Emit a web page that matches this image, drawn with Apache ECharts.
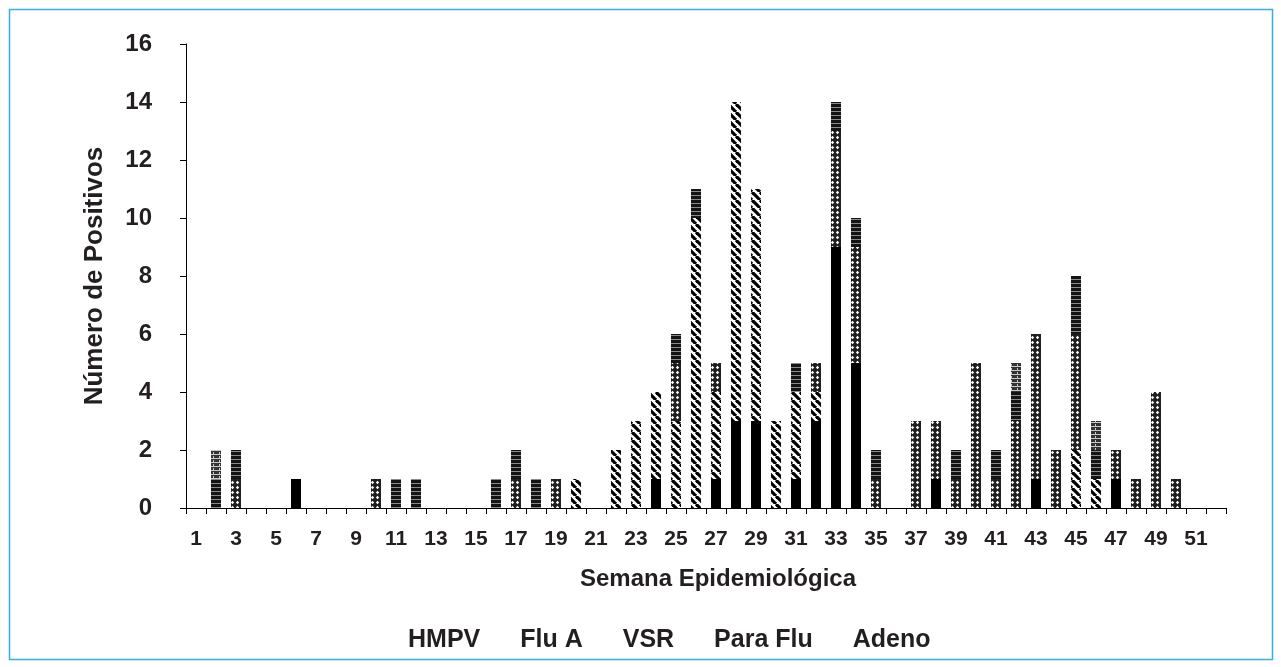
<!DOCTYPE html>
<html>
<head>
<meta charset="utf-8">
<script src="https://cdn.jsdelivr.net/npm/echarts@6/dist/echarts.min.js"></script>
<style>
html,body{margin:0;padding:0;background:#fff;}
#c{width:1281px;height:667px;}
</style>
</head>
<body>
<div id="c"></div>
<script>
// Weeks 1..52
const weeks = Array.from({length: 52}, (_, i) => String(i + 1));
const seriesNames = ['HMPV', 'Flu A', 'VSR', 'Para Flu', 'Adeno'];
//                 1 2 3 4 5 6 7 8 9 10 11 12 13 14 15 16 17 18 19 20 21 22 23 24 25 26 27 28 29 30 31 32 33 34 35 36 37 38 39 40 41 42 43 44 45 46 47 48 49 50 51 52
const hmpv     = [0,0,0,0,0,1,0,0,0, 0, 0, 0, 0, 0, 0, 0, 0, 0, 0, 0, 0, 0, 0, 1, 0, 0, 1, 3, 3, 0, 1, 3, 9, 5, 0, 0, 0, 1, 0, 0, 0, 0, 1, 0, 0, 0, 1, 0, 0, 0, 0, 0];
const fluA     = [0,0,0,0,0,0,0,0,0, 0, 0, 0, 0, 0, 0, 0, 0, 0, 0, 1, 0, 2, 3, 3, 3,10, 3,11, 8, 3, 3, 1, 0, 0, 0, 0, 0, 0, 0, 0, 0, 0, 0, 0, 2, 1, 0, 0, 0, 0, 0, 0];
const vsr      = [0,0,1,0,0,0,0,0,0, 1, 0, 0, 0, 0, 0, 0, 1, 0, 1, 0, 0, 0, 0, 0, 2, 0, 1, 0, 0, 0, 0, 1, 4, 4, 1, 0, 3, 2, 1, 5, 1, 3, 5, 2, 4, 0, 1, 1, 4, 1, 0, 0];
const paraFlu  = [0,1,1,0,0,0,0,0,0, 0, 1, 1, 0, 0, 0, 1, 1, 1, 0, 0, 0, 0, 0, 0, 1, 1, 0, 0, 0, 0, 1, 0, 1, 1, 1, 0, 0, 0, 1, 0, 1, 1, 0, 0, 2, 1, 0, 0, 0, 0, 0, 0];
const adeno    = [0,1,0,0,0,0,0,0,0, 0, 0, 0, 0, 0, 0, 0, 0, 0, 0, 0, 0, 0, 0, 0, 0, 0, 0, 0, 0, 0, 0, 0, 0, 0, 0, 0, 0, 0, 0, 0, 0, 1, 0, 0, 0, 1, 0, 0, 0, 0, 0, 0];
const yTicks = {min: 0, max: 16, interval: 2};

function pattern(w, h, draw) {
  const c = document.createElement('canvas');
  c.width = w; c.height = h;
  const g = c.getContext('2d');
  draw(g, w, h);
  return {image: c, repeat: 'repeat'};
}
const fills = [
  '#000000',
  pattern(8, 8, (g, w, h) => {
    g.fillStyle = '#fff'; g.fillRect(0, 0, w, h);
    g.strokeStyle = '#000'; g.lineWidth = 3.2;
    for (let k = -1; k <= 1; k++) {
      g.beginPath(); g.moveTo(k * w, 0); g.lineTo(k * w + w, h); g.stroke();
    }
  }),
  pattern(5, 5, (g, w, h) => {
    g.fillStyle = '#1e1e1e'; g.fillRect(0, 0, w, h);
    g.fillStyle = '#ffffff';
    g.beginPath();
    g.moveTo(2.5, 0.8); g.lineTo(4.2, 2.5); g.lineTo(2.5, 4.2); g.lineTo(0.8, 2.5); g.closePath();
    g.fill();
  }),
  pattern(4, 4, (g, w, h) => {
    g.fillStyle = '#141414'; g.fillRect(0, 0, w, h);
    g.fillStyle = '#8a8a8a';
    g.fillRect(0, 3, w, 1);
  }),
  pattern(6, 4, (g, w, h) => {
    g.fillStyle = '#333'; g.fillRect(0, 0, w, h);
    g.fillStyle = '#c8c8c8';
    g.fillRect(0, 2, w, 1);
    g.fillRect(3, 0, 1, 2);
  })
];
const dataSets = [hmpv, fluA, vsr, paraFlu, adeno];

const font = '"Liberation Sans", Arial, sans-serif';
const textColor = '#231f20';

const chart = echarts.init(document.getElementById('c'), null, {renderer: 'canvas'});
chart.setOption({
  animation: false,
  backgroundColor: '#fff',
  graphic: [{
    type: 'rect',
    shape: {x: 9.5, y: 9.5, width: 1263, height: 650},
    style: {fill: 'none', stroke: '#3aaee0', lineWidth: 1.5},
    silent: true
  }],
  grid: {left: 186, right: 55, top: 44, bottom: 159, containLabel: false},
  legend: {
    data: seriesNames,
    icon: 'none',
    itemWidth: 0,
    itemGap: 35,
    selectedMode: false,
    top: 623,
    left: 398,
    textStyle: {fontFamily: font, fontWeight: 'bold', fontSize: 25, color: textColor}
  },
  xAxis: {
    type: 'category',
    data: weeks,
    name: 'Semana Epidemiológica',
    nameLocation: 'middle',
    nameGap: 59,
    nameTextStyle: {fontFamily: font, fontWeight: 'bold', fontSize: 24, color: textColor, padding: [0, 0, 0, 24]},
    axisLine: {lineStyle: {color: '#000', width: 1}},
    axisTick: {show: true, interval: 0, length: 6, lineStyle: {color: '#000'}},
    axisLabel: {interval: 1, margin: 21, fontFamily: font, fontWeight: 'bold', fontSize: 21, color: textColor},
    splitLine: {show: false}
  },
  yAxis: {
    type: 'value',
    min: yTicks.min, max: yTicks.max, interval: yTicks.interval,
    name: 'Número de Positivos',
    nameLocation: 'middle',
    nameGap: 78,
    nameRotate: 90,
    nameTextStyle: {fontFamily: font, fontWeight: 'bold', fontSize: 26, color: textColor},
    axisLine: {show: true, lineStyle: {color: '#000', width: 1}},
    axisTick: {show: true, length: 6, lineStyle: {color: '#000'}},
    axisLabel: {margin: 34, fontFamily: font, fontWeight: 'bold', fontSize: 24, color: textColor},
    splitLine: {show: false}
  },
  series: seriesNames.map((n, i) => ({
    name: n,
    type: 'bar',
    stack: 'total',
    barWidth: 10,
    data: dataSets[i],
    itemStyle: {color: fills[i]}
  }))
});
</script>
</body>
</html>
